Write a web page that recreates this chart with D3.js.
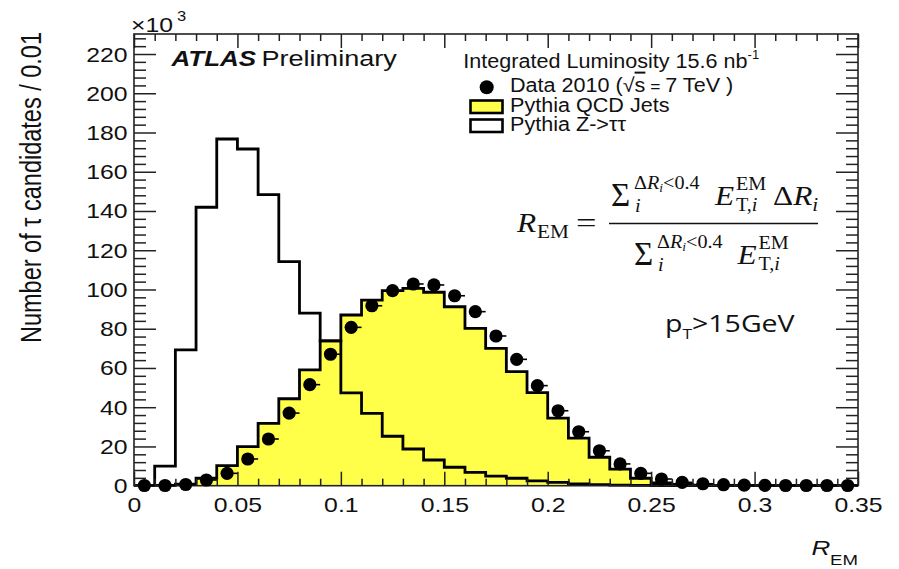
<!DOCTYPE html>
<html>
<head>
<meta charset="utf-8">
<script src="https://cdn.jsdelivr.net/npm/d3@7"></script>
<style>
html,body{margin:0;padding:0;background:#fff;}
svg{display:block;}
text{font-family:"Liberation Sans",Arial,sans-serif;fill:#111;}
</style>
</head>
<body>
<svg id="chart" width="899" height="569"></svg>
<script>
// ---- data (values in units of 10^3 candidates per 0.01 bin) ----
const binCenters = [0.005,0.015,0.025,0.035,0.045,0.055,0.065,0.075,0.085,0.095,
  0.105,0.115,0.125,0.135,0.145,0.155,0.165,0.175,0.185,0.195,
  0.205,0.215,0.225,0.235,0.245,0.255,0.265,0.275,0.285,0.295,
  0.305,0.315,0.325,0.335,0.345];
const binWidth = 0.01;
const zTauTau = [0,10.0,69.2,141.9,176.7,171.6,148.3,114.2,87.9,73.8,
  47.3,36.9,25.2,18.7,13.1,9.4,6.8,4.9,3.8,2.5,
  1.7,0.9,0.5,0.3,0.2,0.1,0.1,0,0,0,
  0,0,0,0,0];
const qcdJets = [0,0.2,0.8,3.8,10.2,19.9,31.8,44.3,59.0,73.8,
  87.0,94.6,99.4,100.6,98.6,91.2,80.2,70.0,58.1,47.4,
  34.4,24.2,14.5,8.4,3.8,1.4,0.6,0.3,0,0,
  0,0,0,0,0];
const data2010 = [0.1,0.1,0.6,2.9,6.3,13.6,23.8,37.0,51.5,67.0,
  80.7,91.7,99.4,102.8,102.3,96.8,88.7,76.3,64.4,51.0,
  38.2,27.5,17.8,11.1,6.3,3.4,1.7,1.0,0.5,0.3,
  0.2,0.1,0.1,0.1,0.1];
const xMajorTicks = [0,0.05,0.1,0.15,0.2,0.25,0.3,0.35];
const yMajorTicks = [0,20,40,60,80,100,120,140,160,180,200,220];
const legendLabels = ["Data 2010 (", "Pythia QCD Jets", "Pythia Z->ττ"];

// ---- layout ----
const L = 134, R = 858, T = 34, B = 485.7;
const svg = d3.select("#chart");
const x = d3.scaleLinear().domain([0, 0.35]).range([L, R]);
const y = d3.scaleLinear().domain([0, 230.2]).range([B, T]);
const yellow = "#ffff4a";
const sx = 1.24;

function stext(g, str, px, py, size, opts = {}) {
  const t = g.append("text")
    .attr("transform", `translate(${px},${py}) scale(${opts.sx || 1},1)`)
    .style("font-size", size + "px")
    .text(str);
  if (opts.anchor) t.attr("text-anchor", opts.anchor);
  if (opts.weight) t.style("font-weight", opts.weight);
  if (opts.style) t.style("font-style", opts.style);
  if (opts.family) t.style("font-family", opts.family);
  return t;
}

// ---- histograms ----
function histPoints(vals) {
  const pts = [[binCenters[0] - binWidth / 2, 0]];
  vals.forEach((v, i) => pts.push([binCenters[i] - binWidth / 2, v]));
  const last = binCenters[binCenters.length - 1] + binWidth / 2;
  pts.push([last, vals[vals.length - 1]]);
  pts.push([last, 0]);
  return pts;
}
const stepLine = d3.line().x(d => x(d[0])).y(d => y(d[1])).curve(d3.curveStepAfter);
const stepArea = d3.area().x(d => x(d[0])).y0(y(0)).y1(d => y(d[1])).curve(d3.curveStepAfter);

const qcdPts = histPoints(qcdJets);
svg.append("path").attr("d", stepArea(qcdPts)).attr("fill", yellow).attr("stroke", "none");
svg.append("path").attr("d", stepLine(qcdPts)).attr("fill", "none")
  .attr("stroke", "#000").attr("stroke-width", 2.8).attr("stroke-linejoin", "miter");

const zPts = histPoints(zTauTau);
svg.append("path").attr("d", stepLine(zPts)).attr("fill", "none")
  .attr("stroke", "#000").attr("stroke-width", 2.8).attr("stroke-linejoin", "miter");

// ---- axes (ticks pointing inward) ----
const xMinor = binCenters.map(c => +(c - binWidth / 2).toFixed(2)).concat([0.35])
  .filter(v => !xMajorTicks.some(m => Math.abs(m - v) < 1e-9));
const yMinor = d3.range(0, 230, 4).filter(v => v % 20 !== 0);
const fmtX = d => String(+d.toFixed(2));

function axisG(gen, tx, ty) {
  return svg.append("g").attr("transform", `translate(${tx},${ty})`).call(gen);
}
const gB = axisG(d3.axisBottom(x).tickValues(xMajorTicks).tickSize(-14).tickFormat(fmtX), 0, B);
axisG(d3.axisBottom(x).tickValues(xMinor).tickSize(-7).tickFormat(""), 0, B);
axisG(d3.axisTop(x).tickValues(xMajorTicks).tickSize(-14).tickFormat(""), 0, T);
axisG(d3.axisTop(x).tickValues(xMinor).tickSize(-7).tickFormat(""), 0, T);
const gL = axisG(d3.axisLeft(y).tickValues(yMajorTicks).tickSize(-22), L, 0);
axisG(d3.axisLeft(y).tickValues(yMinor).tickSize(-12).tickFormat(""), L, 0);
axisG(d3.axisRight(y).tickValues(yMajorTicks).tickSize(-22).tickFormat(""), R, 0);
axisG(d3.axisRight(y).tickValues(yMinor).tickSize(-12).tickFormat(""), R, 0);

svg.selectAll(".domain").remove();
svg.selectAll(".tick line").attr("stroke", "#222").attr("stroke-width", 1.5);

gB.selectAll(".tick text")
  .attr("y", 0).attr("dy", null)
  .attr("transform", `translate(0,26) scale(${sx},1)`)
  .style("font-size", "20px").attr("fill", "#111")
  .style("font-family", '"Liberation Sans",Arial,sans-serif');
gL.selectAll(".tick text")
  .attr("x", -6.5 / sx).attr("dy", "0.35em")
  .attr("transform", `scale(${sx},1)`)
  .style("font-size", "20px").attr("fill", "#111")
  .style("font-family", '"Liberation Sans",Arial,sans-serif');

svg.append("rect").attr("x", L).attr("y", T).attr("width", R - L).attr("height", B - T)
  .attr("fill", "none").attr("stroke", "#222").attr("stroke-width", 1.6);

// ---- data points ----
const pts = svg.append("g");
pts.selectAll("line").data(data2010).join("line")
  .attr("x1", (d, i) => x(binCenters[i])).attr("x2", (d, i) => x(binCenters[i] + binWidth / 2))
  .attr("y1", d => y(d)).attr("y2", d => y(d))
  .attr("stroke", "#000").attr("stroke-width", 1.6);
pts.selectAll("circle").data(data2010).join("circle")
  .attr("cx", (d, i) => x(binCenters[i])).attr("cy", d => y(d))
  .attr("r", 6.6).attr("fill", "#000");

// ---- texts ----
const tg = svg.append("g");
stext(tg, "×10", 131, 31.7, 21, {sx: 1.18});
stext(tg, "3", 177, 21, 14, {sx: 1.18});
tg.append("text")
  .attr("transform", "translate(41,32) rotate(-90) scale(1,1.24)")
  .attr("text-anchor", "end")
  .style("font-size", "23.5px")
  .text("Number of τ candidates / 0.01");
stext(tg, "R", 811.5, 555, 21, {sx: sx, style: "italic"});
stext(tg, "EM", 830, 565, 15, {sx: sx});
stext(tg, "ATLAS", 171.5, 65.7, 22, {sx: 1.18, weight: "bold", style: "italic"});
stext(tg, "Preliminary", 261.5, 65.7, 22, {sx: 1.23});

// legend
const lsx = 1.09, lfs = 19.8;
const lum = tg.append("text")
  .attr("transform", `translate(463.3,68.3) scale(${lsx},1)`).style("font-size", lfs + "px");
lum.append("tspan").text("Integrated Luminosity 15.6 nb");
lum.append("tspan").attr("dy", -9).style("font-size", "12px").text("-1");

const dataT = tg.append("text")
  .attr("transform", `translate(510,91.7) scale(${lsx},1)`).style("font-size", lfs + "px");
dataT.append("tspan").text(legendLabels[0] + "√");
dataT.append("tspan").style("text-decoration", "overline").text("s");
dataT.append("tspan").style("font-size", "16px").text(" = ");
dataT.append("tspan").text("7 TeV )");
stext(tg, legendLabels[1], 510, 111.7, lfs, {sx: lsx});
stext(tg, legendLabels[2], 510, 130.5, lfs, {sx: lsx});

tg.append("circle").attr("cx", 486.7).attr("cy", 87.3).attr("r", 7).attr("fill", "#000");
tg.append("rect").attr("x", 470.5).attr("y", 100.5).attr("width", 32).attr("height", 12.5)
  .attr("fill", yellow).attr("stroke", "#000").attr("stroke-width", 2.6);
tg.append("rect").attr("x", 470.5).attr("y", 119.5).attr("width", 32).attr("height", 12.5)
  .attr("fill", "#fff").attr("stroke", "#000").attr("stroke-width", 2.6);

// formula
const serif = '"Liberation Serif","Times New Roman",serif';
const fg = svg.append("g");
function ftext(str, px, py, size, italic, opts = {}) {
  return fg.append("text")
    .attr("transform", `translate(${px},${py}) scale(${opts.sx || 1.12},1)`)
    .style("font-family", serif).style("font-size", size + "px")
    .style("font-style", italic ? "italic" : "normal")
    .text(str);
}
ftext("R", 517, 232, 28, true);
ftext("EM", 537, 237.5, 19, false);
ftext("=", 576, 232, 28, false, {sx: 1.3});
fg.append("line").attr("x1", 609).attr("x2", 818).attr("y1", 223.5).attr("y2", 223.5)
  .attr("stroke", "#111").attr("stroke-width", 1.5);
function sumBlock(px, py) {
  ftext("Σ", px, py + 1, 33, false, {sx: 1.0});
  ftext("i", px + 24, py + 7, 18, true);
  const s = fg.append("text")
    .attr("transform", `translate(${px + 23},${py - 16}) scale(1.12,1)`)
    .style("font-family", serif).style("font-size", "18px");
  s.append("tspan").text("Δ");
  s.append("tspan").style("font-style", "italic").text("R");
  s.append("tspan").style("font-style", "italic").style("font-size", "12px").attr("dy", 3).text("i");
  s.append("tspan").attr("dy", -3).text("<0.4");
}
function eBlock(px, py) {
  ftext("E", px, py, 28, true);
  ftext("EM", px + 21, py - 15, 18, false);
  const s = fg.append("text")
    .attr("transform", `translate(${px + 21},${py + 6}) scale(1.12,1)`)
    .style("font-family", serif).style("font-size", "18px");
  s.append("tspan").text("T,");
  s.append("tspan").style("font-style", "italic").text("i");
}
sumBlock(611, 205);
eBlock(715, 205);
const dr = fg.append("text")
  .attr("transform", "translate(773,205) scale(1.12,1)")
  .style("font-family", serif).style("font-size", "28px");
dr.append("tspan").text("Δ");
dr.append("tspan").style("font-style", "italic").text("R");
dr.append("tspan").style("font-style", "italic").style("font-size", "19px").attr("dy", 6).text("i");
sumBlock(634, 264);
eBlock(737.5, 264);

// pT text
const pt = tg.append("text")
  .attr("transform", `translate(665,331.7) scale(${sx},1)`)
  .style("font-family", '"Open Sans","Noto Sans",sans-serif').style("font-size", "23px");
pt.append("tspan").text("p");
pt.append("tspan").attr("dy", 7).style("font-size", "14px").text("T");
pt.append("tspan").attr("dy", -7).text(">15GeV");
</script>
</body>
</html>
